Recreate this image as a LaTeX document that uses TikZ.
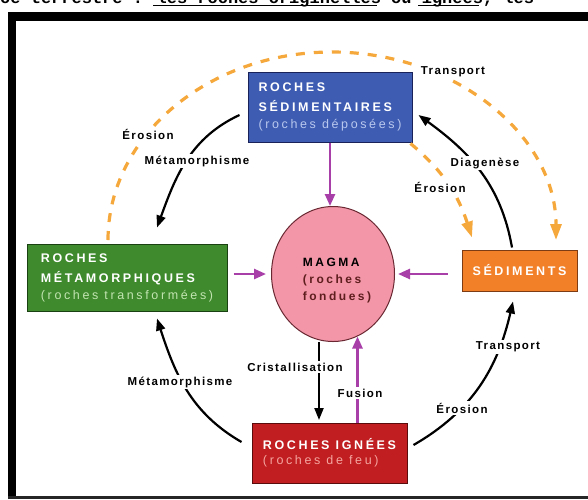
\documentclass[tikz,border=0pt]{standalone}
\usepackage{fontspec}
\setmainfont{Liberation Sans}
\newfontfamily\boxfont[LetterSpace=21]{Liberation Sans}
\newfontfamily\lblfont[LetterSpace=12]{Liberation Sans}
\newfontfamily\pagefont{Liberation Mono}
\usetikzlibrary{arrows.meta,shapes.geometric}

\definecolor{sedblue}{RGB}{62,92,178}
\definecolor{sedborder}{RGB}{25,35,90}
\definecolor{sedsub}{RGB}{185,200,238}
\definecolor{metgreen}{RGB}{62,138,44}
\definecolor{metborder}{RGB}{25,65,18}
\definecolor{metsub}{RGB}{195,228,178}
\definecolor{sediorange}{RGB}{242,128,40}
\definecolor{sediborder}{RGB}{125,60,20}
\definecolor{ignred}{RGB}{192,30,32}
\definecolor{ignborder}{RGB}{90,12,12}
\definecolor{ignsub}{RGB}{245,165,160}
\definecolor{magpink}{RGB}{242,150,168}
\definecolor{magborder}{RGB}{105,40,50}
\definecolor{magtext}{RGB}{95,30,30}
\definecolor{magpurple}{RGB}{168,62,168}
\definecolor{dashorange}{RGB}{245,168,60}

\tikzset{
	rockbox/.style={draw, line width=1pt, rectangle, align=left, text=white, inner sep=0pt,
		font=\boxfont\fontsize{12.5}{20}\selectfont\bfseries},
	cyclearrow/.style={line width=2.2pt, -{Triangle[length=12pt,width=9pt]}},
	magarrow/.style={line width=2.5pt, color=magpurple, -{Triangle[length=12pt,width=10pt]}},
	transarrow/.style={line width=3.2pt, color=dashorange, dash pattern=on 9pt off 9pt,
		-{Triangle[length=16pt,width=11pt]}},
	proc/.style={fill=white, inner sep=1.5pt, font=\lblfont\fontsize{11.5}{13}\selectfont\bfseries}
}

\begin{document}
\begin{tikzpicture}[x=1pt,y=1pt]
	\useasboundingbox (0,0) rectangle (588,-499);
	\clip (0,0) rectangle (588,-499);

	%	Line of the page above the figure (cut)
	\node[anchor=base west, inner sep=0pt, font=\pagefont\fontsize{17}{17}\selectfont\bfseries] (pagetxt) at (0,-3.5) {ce terrestre : les roches originelles ou ignées, les};
	\draw[line width=1pt] (153,-5) -- (377,-5);% underline
	\draw[line width=1pt] (418,-5) -- (479,-5);% underline

	%	Frame
	\draw[line width=8.5pt] (12,-499) -- (12,-16.5) -- (588,-16.5);
	\draw[line width=2.5pt, black!85] (8,-497.5) -- (588,-497.5);% bottom line

	%	Rock boxes
	\node[rockbox, fill=sedblue, draw=sedborder, minimum width=164pt, minimum height=70pt] (sed) at (330,-107)
		{ROCHES\\SÉDIMENTAIRES\\[-3pt]{\mdseries\color{sedsub}(roches déposées)}};
	\node[rockbox, fill=metgreen, draw=metborder, minimum width=200pt, minimum height=67pt] (met) at (127,-277.5)
		{ROCHES\\MÉTAMORPHIQUES\\[-3pt]{\mdseries\color{metsub}(roches transformées)}};
	\node[rockbox, fill=sediorange, draw=sediborder, minimum width=115pt, minimum height=41pt] (sedi) at (519.5,-270.5)
		{SÉDIMENTS};
	\node[rockbox, fill=ignred, draw=ignborder, minimum width=155pt, minimum height=60pt] (ign) at (329.5,-453)
		{ROCHES IGNÉES\\[-5pt]{\mdseries\color{ignsub}(roches de feu)}};

	%	Magma
	\node[ellipse, draw=magborder, fill=magpink, line width=1pt, minimum width=123pt, minimum height=135pt, inner sep=0pt] (magma) at (333,-274) {};
	\node[align=left, inner sep=0pt, font=\boxfont\fontsize{12}{17}\selectfont\bfseries] (magtxt) at (337,-281)
		{MAGMA\\{\color{magtext}(roches}\\{\color{magtext}fondues)}};

	%	Transport (dashed)
	\coordinate (arcstart) at (108,-240);
	\draw[transarrow] (arcstart) arc[start angle=180, end angle=0, x radius=224pt, y radius=188pt];
	\draw[transarrow] ([shift={(-2pt,-1pt)}]sed.south east) to[out=-40,in=108] ([shift={(-47.5pt,12pt)}]sedi.north);

	%	Cycle arrows
	\draw[cyclearrow] ([shift={(-8pt,-8pt)}]sed.west) to[out=205,in=70] ([shift={(30pt,16pt)}]met.north);
	\draw[cyclearrow] ([shift={(-10pt,11pt)}]ign.west) to[out=150,in=288] ([shift={(30pt,-7pt)}]met.south);
	\draw[cyclearrow] ([shift={(6pt,8pt)}]ign.east) to[out=30,in=257] ([shift={(-6.5pt,-10pt)}]sedi.south);
	\draw[cyclearrow] ([shift={(-7.5pt,2pt)}]sedi.north) to[out=100,in=-36] ([shift={(6pt,-8pt)}]sed.east);
	\draw[cyclearrow] ([xshift=-14pt]magma.south) -- ++(0,-78pt);

	%	Into the magma
	\draw[magarrow] (sed.south) -- (sed.south |- magma.north);
	\draw[magarrow, shorten <=6pt, shorten >=5pt] (met.east |- magma.west) -- (magma.west);
	\draw[magarrow, shorten <=14pt, shorten >=3pt] (sedi.west |- magma.east) -- (magma.east);
	\draw[magarrow] ([xshift=28pt]ign.north) -- ++(0,86pt);

	%	Labels
	\node[proc] (ero1) at (148,-134) {Érosion};
	\node[proc] (meta1) at (197,-161) {Métamorphisme};
	\node[proc] (trans1) at (453,-72) {Transport};
	\node[proc] (diag) at (485,-163) {Diagenèse};
	\node[proc] (ero2) at (440,-187) {Érosion};
	\node[proc] (meta2) at (180,-382) {Métamorphisme};
	\node[proc] (crist) at (295,-367) {Cristallisation};
	\node[proc] (fus) at (360,-393) {Fusion};
	\node[proc] (trans2) at (508,-347) {Transport};
	\node[proc] (ero3) at (462,-408) {Érosion};
\end{tikzpicture}
\end{document}
